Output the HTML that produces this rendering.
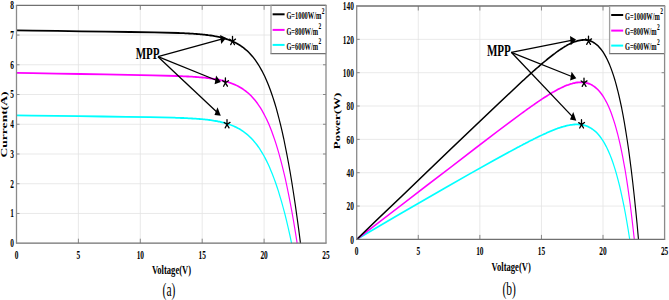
<!DOCTYPE html>
<html><head><meta charset="utf-8"><style>
html,body{margin:0;padding:0;background:#fff;}
svg{display:block;}
text{font-family:"Liberation Serif", serif;}
</style></head><body>
<svg width="669" height="300" viewBox="0 0 669 300">
<rect width="669" height="300" fill="#fff"/>
<path d="M78.40 5.30V243.20 M140.30 5.30V243.20 M202.20 5.30V243.20 M264.10 5.30V243.20 M16.50 213.46H326.00 M16.50 183.72H326.00 M16.50 153.99H326.00 M16.50 124.25H326.00 M16.50 94.51H326.00 M16.50 64.78H326.00 M16.50 35.04H326.00" stroke="#e3e3e3" stroke-width="0.8" fill="none"/>
<polyline transform="scale(0.64,1)" points="25.8,115.4 49.8,115.6 86.7,115.9 123.6,116.2 160.5,116.5 197.3,116.8 234.2,117.2 271.1,117.7 273.1,117.7 275.0,117.8 276.9,117.8 278.9,117.9 280.8,117.9 282.7,118.0 284.7,118.0 286.6,118.0 288.5,118.1 290.5,118.2 292.4,118.2 294.4,118.3 296.3,118.3 298.2,118.4 300.2,118.5 302.1,118.6 304.1,118.6 306.0,118.7 307.9,118.8 309.9,118.9 311.8,119.0 313.8,119.1 315.7,119.2 317.6,119.3 319.6,119.4 321.5,119.6 323.5,119.7 325.4,119.9 327.4,120.0 329.3,120.2 331.3,120.4 333.2,120.6 335.2,120.8 337.1,121.0 339.1,121.2 341.0,121.5 343.0,121.7 345.0,122.0 346.9,122.3 348.9,122.6 350.8,122.9 352.8,123.3 354.8,123.7 356.8,124.1 358.7,124.5 360.7,125.0 362.7,125.5 364.7,126.0 366.7,126.6 368.7,127.2 370.7,127.8 372.7,128.5 374.7,129.2 376.7,130.0 378.7,130.8 380.7,131.7 382.7,132.7 384.8,133.7 386.8,134.8 388.9,136.0 390.9,137.2 393.0,138.5 395.1,139.9 397.1,141.5 399.2,143.1 401.3,144.8 403.5,146.7 405.6,148.7 407.7,150.8 409.9,153.1 412.1,155.5 414.3,158.1 416.5,160.9 418.7,163.8 421.0,167.0 423.2,170.4 425.5,174.0 427.8,177.9 430.2,182.0 432.6,186.5 435.0,191.2 437.4,196.3 439.9,201.7 442.4,207.5 445.0,213.7 447.6,220.4 450.2,227.5 452.9,235.1 455.6,243.2" stroke="#00ffff" stroke-width="1.8" fill="none" stroke-linejoin="round"/>
<polyline transform="scale(0.64,1)" points="25.8,72.8 50.7,73.1 88.3,73.6 125.9,74.0 163.6,74.4 201.2,74.9 238.8,75.4 276.5,76.0 278.4,76.1 280.4,76.1 282.4,76.2 284.4,76.2 286.3,76.3 288.3,76.3 290.3,76.4 292.3,76.5 294.2,76.5 296.2,76.6 298.2,76.7 300.2,76.7 302.1,76.8 304.1,76.9 306.1,77.0 308.1,77.1 310.0,77.2 312.0,77.3 314.0,77.4 316.0,77.5 318.0,77.6 319.9,77.7 321.9,77.8 323.9,78.0 325.9,78.1 327.9,78.3 329.9,78.5 331.8,78.6 333.8,78.8 335.8,79.0 337.8,79.2 339.8,79.5 341.8,79.7 343.8,80.0 345.8,80.3 347.8,80.5 349.7,80.9 351.7,81.2 353.7,81.6 355.7,81.9 357.7,82.3 359.7,82.8 361.8,83.3 363.8,83.8 365.8,84.3 367.8,84.9 369.8,85.5 371.8,86.1 373.8,86.8 375.9,87.6 377.9,88.4 379.9,89.2 382.0,90.2 384.0,91.1 386.1,92.2 388.1,93.3 390.2,94.5 392.3,95.8 394.3,97.2 396.4,98.7 398.5,100.3 400.6,102.0 402.7,103.8 404.8,105.8 407.0,107.9 409.1,110.2 411.2,112.6 413.4,115.2 415.6,118.0 417.8,120.9 420.0,124.1 422.2,127.6 424.5,131.2 426.7,135.2 429.0,139.4 431.3,143.9 433.7,148.8 436.0,154.0 438.4,159.6 440.8,165.5 443.3,172.0 445.8,178.8 448.3,186.2 450.8,194.1 453.4,202.6 456.1,211.7 458.8,221.5 461.5,232.0 464.3,243.2" stroke="#ff00ff" stroke-width="1.8" fill="none" stroke-linejoin="round"/>
<polyline transform="scale(0.64,1)" points="25.8,30.4 51.0,30.6 89.1,30.9 127.1,31.3 165.2,31.6 203.2,32.0 241.3,32.4 279.4,33.0 281.4,33.1 283.4,33.1 285.4,33.2 287.4,33.2 289.4,33.3 291.4,33.4 293.4,33.4 295.4,33.5 297.4,33.6 299.4,33.6 301.4,33.7 303.4,33.8 305.4,33.9 307.4,34.0 309.4,34.1 311.4,34.2 313.4,34.3 315.4,34.4 317.4,34.6 319.4,34.7 321.4,34.9 323.4,35.0 325.4,35.2 327.4,35.3 329.4,35.5 331.4,35.7 333.4,35.9 335.4,36.2 337.4,36.4 339.4,36.6 341.4,36.9 343.4,37.2 345.5,37.5 347.5,37.8 349.5,38.2 351.5,38.6 353.5,39.0 355.5,39.4 357.6,39.8 359.6,40.3 361.6,40.9 363.6,41.4 365.7,42.0 367.7,42.7 369.7,43.3 371.8,44.1 373.8,44.9 375.9,45.7 377.9,46.6 380.0,47.5 382.0,48.6 384.1,49.7 386.1,50.8 388.2,52.1 390.3,53.4 392.4,54.9 394.5,56.4 396.6,58.1 398.7,59.9 400.8,61.8 402.9,63.8 405.0,66.0 407.1,68.3 409.3,70.8 411.4,73.5 413.6,76.3 415.8,79.4 418.0,82.7 420.2,86.2 422.4,90.0 424.6,94.0 426.9,98.3 429.2,103.0 431.5,107.9 433.8,113.3 436.1,119.0 438.5,125.1 440.9,131.6 443.3,138.6 445.7,146.2 448.2,154.2 450.7,162.8 453.3,172.1 455.9,182.0 458.5,192.6 461.2,204.0 463.9,216.2 466.7,229.2 469.5,243.2" stroke="#000" stroke-width="1.8" fill="none" stroke-linejoin="round"/>
<path d="M78.40 243.20v-4.5M78.40 5.30v4.5 M140.30 243.20v-4.5M140.30 5.30v4.5 M202.20 243.20v-4.5M202.20 5.30v4.5 M264.10 243.20v-4.5M264.10 5.30v4.5 M16.50 213.46h3M326.00 213.46h-3 M16.50 183.72h3M326.00 183.72h-3 M16.50 153.99h3M326.00 153.99h-3 M16.50 124.25h3M326.00 124.25h-3 M16.50 94.51h3M326.00 94.51h-3 M16.50 64.78h3M326.00 64.78h-3 M16.50 35.04h3M326.00 35.04h-3" stroke="#888" stroke-width="1" fill="none"/>
<path d="M15.90 5.30H326.60M15.90 243.20H326.60" stroke="#707070" stroke-width="1.3" fill="none"/>
<path d="M16.50 5.30V243.20M326.00 5.30V243.20" stroke="#8a8a8a" stroke-width="1.3" fill="none"/>
<text transform="translate(13.90,247.00) scale(0.64,1)" font-size="11.5" font-weight="bold" text-anchor="end" fill="#000" >0</text>
<text transform="translate(13.90,217.26) scale(0.64,1)" font-size="11.5" font-weight="bold" text-anchor="end" fill="#000" >1</text>
<text transform="translate(13.90,187.53) scale(0.64,1)" font-size="11.5" font-weight="bold" text-anchor="end" fill="#000" >2</text>
<text transform="translate(13.90,157.79) scale(0.64,1)" font-size="11.5" font-weight="bold" text-anchor="end" fill="#000" >3</text>
<text transform="translate(13.90,128.05) scale(0.64,1)" font-size="11.5" font-weight="bold" text-anchor="end" fill="#000" >4</text>
<text transform="translate(13.90,98.31) scale(0.64,1)" font-size="11.5" font-weight="bold" text-anchor="end" fill="#000" >5</text>
<text transform="translate(13.90,68.58) scale(0.64,1)" font-size="11.5" font-weight="bold" text-anchor="end" fill="#000" >6</text>
<text transform="translate(13.90,38.84) scale(0.64,1)" font-size="11.5" font-weight="bold" text-anchor="end" fill="#000" >7</text>
<text transform="translate(13.90,9.10) scale(0.64,1)" font-size="11.5" font-weight="bold" text-anchor="end" fill="#000" >8</text>
<text transform="translate(16.50,259.00) scale(0.64,1)" font-size="11.5" font-weight="bold" text-anchor="middle" fill="#000" >0</text>
<text transform="translate(78.40,259.00) scale(0.64,1)" font-size="11.5" font-weight="bold" text-anchor="middle" fill="#000" >5</text>
<text transform="translate(140.30,259.00) scale(0.64,1)" font-size="11.5" font-weight="bold" text-anchor="middle" fill="#000" >10</text>
<text transform="translate(202.20,259.00) scale(0.64,1)" font-size="11.5" font-weight="bold" text-anchor="middle" fill="#000" >15</text>
<text transform="translate(264.10,259.00) scale(0.64,1)" font-size="11.5" font-weight="bold" text-anchor="middle" fill="#000" >20</text>
<text transform="translate(326.00,259.00) scale(0.64,1)" font-size="11.5" font-weight="bold" text-anchor="middle" fill="#000" >25</text>
<text transform="translate(171.50,274.40) scale(0.64,1)" font-size="13.4" font-weight="bold" text-anchor="middle" fill="#000" >Voltage(V)</text>
<text transform="translate(7.3,124.5) scale(0.64,1) rotate(-90)" font-size="13.6" font-weight="bold" text-anchor="middle" fill="#000" >Current(A)</text>
<text transform="translate(169.00,295.50) scale(0.64,1)" font-size="18" font-weight="normal" text-anchor="middle" fill="#000" >(a)</text>
<path d="M232.50 41.20l0.00 -4.90M232.50 41.20l0.00 1.00M232.50 41.20l-2.80 -2.00M232.50 41.20l3.00 -2.10M232.50 41.20l-1.80 3.40M232.50 41.20l2.00 3.40" stroke="#000" stroke-width="1.3" fill="none" stroke-linecap="round"/>
<path d="M225.40 82.80l0.00 -4.90M225.40 82.80l0.00 1.00M225.40 82.80l-2.80 -2.00M225.40 82.80l3.00 -2.10M225.40 82.80l-1.80 3.40M225.40 82.80l2.00 3.40" stroke="#000" stroke-width="1.3" fill="none" stroke-linecap="round"/>
<path d="M227.00 124.50l0.00 -4.90M227.00 124.50l0.00 1.00M227.00 124.50l-2.80 -2.00M227.00 124.50l3.00 -2.10M227.00 124.50l-1.80 3.40M227.00 124.50l2.00 3.40" stroke="#000" stroke-width="1.3" fill="none" stroke-linecap="round"/>
<text transform="translate(147.60,58.70) scale(0.65,1)" font-size="17" font-weight="bold" text-anchor="middle" fill="#000" >MPP</text>
<path d="M158.00 56.70L221.60 39.17" stroke="#000" stroke-width="1.3" fill="none"/>
<path d="M226.20 37.90L221.17 43.96L220.14 34.90Z" fill="#000"/>
<path d="M158.00 56.70L216.28 80.27" stroke="#000" stroke-width="1.3" fill="none"/>
<path d="M220.80 82.10L214.61 84.35L216.09 75.44Z" fill="#000"/>
<path d="M158.00 56.70L216.80 111.94" stroke="#000" stroke-width="1.3" fill="none"/>
<path d="M220.80 115.70L214.46 115.11L217.49 107.22Z" fill="#000"/>
<rect x="271.00" y="5.30" width="55.00" height="48.30" fill="#fff" stroke="none"/>
<path d="M270.40 5.30H326.00M270.40 53.60H326.00" stroke="#707070" stroke-width="1.2" fill="none"/>
<path d="M271.00 5.30V53.60M326.00 5.30V53.60" stroke="#a0a0a0" stroke-width="1.3" fill="none"/>
<path d="M272.60 14.30H284.60" stroke="#000" stroke-width="2"/>
<text transform="translate(286.40,19.10) scale(0.64,1)" font-size="10" font-weight="bold" text-anchor="start" fill="#000" >G=1000W/m<tspan dy="-5.6" dx="0.6" font-size="8.5">2</tspan></text>
<path d="M272.60 29.90H284.60" stroke="#ff00ff" stroke-width="2"/>
<text transform="translate(286.40,34.70) scale(0.64,1)" font-size="10" font-weight="bold" text-anchor="start" fill="#000" >G=800W/m<tspan dy="-5.6" dx="0.6" font-size="8.5">2</tspan></text>
<path d="M272.60 44.90H284.60" stroke="#00ffff" stroke-width="2"/>
<text transform="translate(286.40,49.70) scale(0.64,1)" font-size="10" font-weight="bold" text-anchor="start" fill="#000" >G=600W/m<tspan dy="-5.6" dx="0.6" font-size="8.5">2</tspan></text>
<path d="M418.28 6.00V239.40 M479.86 6.00V239.40 M541.44 6.00V239.40 M603.02 6.00V239.40 M356.70 206.06H664.60 M356.70 172.71H664.60 M356.70 139.37H664.60 M356.70 106.03H664.60 M356.70 72.69H664.60 M356.70 39.34H664.60" stroke="#e3e3e3" stroke-width="0.8" fill="none"/>
<polyline transform="scale(0.64,1)" points="557.3,239.4 587.2,228.1 623.8,214.4 660.4,200.8 697.0,187.3 733.6,174.0 770.2,160.9 806.8,148.1 808.7,147.4 810.6,146.8 812.6,146.1 814.5,145.5 816.4,144.8 818.3,144.2 820.2,143.6 822.2,142.9 824.1,142.3 826.0,141.6 827.9,141.0 829.8,140.4 831.8,139.8 833.7,139.1 835.6,138.5 837.5,137.9 839.5,137.3 841.4,136.7 843.3,136.1 845.2,135.5 847.1,135.0 849.1,134.4 851.0,133.8 852.9,133.3 854.8,132.7 856.8,132.2 858.7,131.6 860.6,131.1 862.6,130.6 864.5,130.1 866.4,129.6 868.3,129.1 870.3,128.7 872.2,128.2 874.1,127.8 876.1,127.4 878.0,127.0 879.9,126.7 881.9,126.3 883.8,126.0 885.7,125.7 887.7,125.4 889.6,125.2 891.6,124.9 893.5,124.8 895.4,124.6 897.4,124.5 899.3,124.4 901.3,124.4 903.2,124.4 905.2,124.5 907.1,124.6 909.1,124.8 911.1,125.0 913.0,125.3 915.0,125.7 917.0,126.1 918.9,126.7 920.9,127.3 922.9,128.0 924.9,128.8 926.9,129.7 928.9,130.7 930.9,131.8 932.9,133.1 934.9,134.5 936.9,136.0 938.9,137.7 940.9,139.6 943.0,141.6 945.0,143.9 947.1,146.3 949.1,149.0 951.2,151.9 953.3,155.1 955.4,158.5 957.5,162.3 959.6,166.3 961.7,170.7 963.8,175.4 966.0,180.6 968.2,186.1 970.3,192.1 972.5,198.6 974.8,205.6 977.0,213.1 979.3,221.2 981.6,230.0 983.9,239.4" stroke="#00ffff" stroke-width="1.8" fill="none" stroke-linejoin="round"/>
<polyline transform="scale(0.64,1)" points="557.3,239.4 592.7,222.0 629.9,203.7 667.1,185.4 704.3,167.2 741.5,148.9 778.6,130.8 815.8,113.0 817.8,112.1 819.7,111.2 821.7,110.3 823.6,109.4 825.6,108.5 827.5,107.6 829.5,106.7 831.4,105.8 833.4,105.0 835.3,104.1 837.3,103.2 839.2,102.4 841.2,101.5 843.1,100.7 845.1,99.8 847.0,99.0 849.0,98.2 850.9,97.4 852.9,96.6 854.8,95.8 856.8,95.0 858.7,94.2 860.7,93.5 862.6,92.7 864.6,92.0 866.5,91.3 868.5,90.6 870.4,89.9 872.4,89.2 874.4,88.6 876.3,88.0 878.3,87.4 880.2,86.8 882.2,86.2 884.1,85.7 886.1,85.2 888.0,84.8 890.0,84.3 891.9,83.9 893.9,83.6 895.9,83.2 897.8,83.0 899.8,82.7 901.7,82.5 903.7,82.4 905.6,82.3 907.6,82.3 909.6,82.3 911.5,82.4 913.5,82.5 915.4,82.8 917.4,83.1 919.4,83.5 921.3,83.9 923.3,84.5 925.2,85.2 927.2,86.0 929.2,86.9 931.1,87.9 933.1,89.0 935.1,90.3 937.1,91.7 939.0,93.3 941.0,95.0 943.0,96.9 944.9,99.0 946.9,101.3 948.9,103.8 950.9,106.6 952.9,109.5 954.9,112.8 956.8,116.3 958.8,120.1 960.8,124.1 962.8,128.6 964.8,133.3 966.8,138.5 968.8,144.0 970.8,149.9 972.8,156.3 974.8,163.2 976.9,170.6 978.9,178.5 980.9,187.0 982.9,196.1 985.0,205.8 987.0,216.3 989.0,227.4 991.1,239.4" stroke="#ff00ff" stroke-width="1.8" fill="none" stroke-linejoin="round"/>
<polyline transform="scale(0.64,1)" points="557.3,239.4 590.3,219.1 628.1,196.0 665.8,172.8 703.6,149.6 741.3,126.5 779.1,103.5 816.8,80.8 818.8,79.7 820.8,78.5 822.8,77.3 824.7,76.2 826.7,75.0 828.7,73.9 830.7,72.8 832.7,71.6 834.6,70.5 836.6,69.4 838.6,68.3 840.6,67.2 842.6,66.1 844.5,65.0 846.5,63.9 848.5,62.8 850.5,61.7 852.5,60.7 854.5,59.6 856.4,58.6 858.4,57.6 860.4,56.6 862.4,55.6 864.4,54.6 866.4,53.7 868.3,52.7 870.3,51.8 872.3,50.9 874.3,50.0 876.3,49.1 878.3,48.3 880.3,47.5 882.3,46.7 884.2,46.0 886.2,45.2 888.2,44.5 890.2,43.9 892.2,43.3 894.2,42.7 896.2,42.2 898.2,41.7 900.2,41.3 902.2,40.9 904.2,40.6 906.2,40.3 908.2,40.1 910.2,40.0 912.2,39.9 914.2,39.9 916.2,40.0 918.2,40.2 920.2,40.5 922.2,40.9 924.2,41.4 926.2,42.0 928.3,42.8 930.3,43.7 932.3,44.7 934.3,45.8 936.3,47.2 938.4,48.7 940.4,50.4 942.4,52.2 944.5,54.3 946.5,56.6 948.6,59.2 950.6,62.0 952.7,65.1 954.7,68.4 956.8,72.1 958.9,76.1 961.0,80.5 963.0,85.2 965.1,90.3 967.2,95.9 969.3,101.9 971.5,108.4 973.6,115.5 975.7,123.1 977.8,131.3 980.0,140.1 982.2,149.6 984.3,159.8 986.5,170.8 988.7,182.6 990.9,195.3 993.1,209.0 995.4,223.7 997.6,239.4" stroke="#000" stroke-width="1.8" fill="none" stroke-linejoin="round"/>
<path d="M418.28 239.40v-4.5M418.28 6.00v4.5 M479.86 239.40v-4.5M479.86 6.00v4.5 M541.44 239.40v-4.5M541.44 6.00v4.5 M603.02 239.40v-4.5M603.02 6.00v4.5 M356.70 206.06h3M664.60 206.06h-3 M356.70 172.71h3M664.60 172.71h-3 M356.70 139.37h3M664.60 139.37h-3 M356.70 106.03h3M664.60 106.03h-3 M356.70 72.69h3M664.60 72.69h-3 M356.70 39.34h3M664.60 39.34h-3" stroke="#888" stroke-width="1" fill="none"/>
<path d="M356.10 6.00H665.20M356.10 239.40H665.20" stroke="#707070" stroke-width="1.3" fill="none"/>
<path d="M356.70 6.00V239.40M664.60 6.00V239.40" stroke="#8a8a8a" stroke-width="1.3" fill="none"/>
<text transform="translate(353.90,243.60) scale(0.64,1)" font-size="11.5" font-weight="bold" text-anchor="end" fill="#000" >0</text>
<text transform="translate(353.90,210.26) scale(0.64,1)" font-size="11.5" font-weight="bold" text-anchor="end" fill="#000" >20</text>
<text transform="translate(353.90,176.91) scale(0.64,1)" font-size="11.5" font-weight="bold" text-anchor="end" fill="#000" >40</text>
<text transform="translate(353.90,143.57) scale(0.64,1)" font-size="11.5" font-weight="bold" text-anchor="end" fill="#000" >60</text>
<text transform="translate(353.90,110.23) scale(0.64,1)" font-size="11.5" font-weight="bold" text-anchor="end" fill="#000" >80</text>
<text transform="translate(353.90,76.89) scale(0.64,1)" font-size="11.5" font-weight="bold" text-anchor="end" fill="#000" >100</text>
<text transform="translate(353.90,43.54) scale(0.64,1)" font-size="11.5" font-weight="bold" text-anchor="end" fill="#000" >120</text>
<text transform="translate(353.90,10.20) scale(0.64,1)" font-size="11.5" font-weight="bold" text-anchor="end" fill="#000" >140</text>
<text transform="translate(356.70,255.30) scale(0.64,1)" font-size="11.5" font-weight="bold" text-anchor="middle" fill="#000" >0</text>
<text transform="translate(418.28,255.30) scale(0.64,1)" font-size="11.5" font-weight="bold" text-anchor="middle" fill="#000" >5</text>
<text transform="translate(479.86,255.30) scale(0.64,1)" font-size="11.5" font-weight="bold" text-anchor="middle" fill="#000" >10</text>
<text transform="translate(541.44,255.30) scale(0.64,1)" font-size="11.5" font-weight="bold" text-anchor="middle" fill="#000" >15</text>
<text transform="translate(603.02,255.30) scale(0.64,1)" font-size="11.5" font-weight="bold" text-anchor="middle" fill="#000" >20</text>
<text transform="translate(664.60,255.30) scale(0.64,1)" font-size="11.5" font-weight="bold" text-anchor="middle" fill="#000" >25</text>
<text transform="translate(511.20,271.00) scale(0.64,1)" font-size="13.4" font-weight="bold" text-anchor="middle" fill="#000" >Voltage(V)</text>
<text transform="translate(340.0,121.0) scale(0.64,1) rotate(-90)" font-size="12.9" font-weight="bold" text-anchor="middle" fill="#000" >Power(W)</text>
<text transform="translate(509.20,294.60) scale(0.64,1)" font-size="18" font-weight="normal" text-anchor="middle" fill="#000" >(b)</text>
<path d="M588.50 41.00l0.00 -4.90M588.50 41.00l0.00 1.00M588.50 41.00l-2.80 -2.00M588.50 41.00l3.00 -2.10M588.50 41.00l-1.80 3.40M588.50 41.00l2.00 3.40" stroke="#000" stroke-width="1.3" fill="none" stroke-linecap="round"/>
<path d="M584.00 83.00l0.00 -4.90M584.00 83.00l0.00 1.00M584.00 83.00l-2.80 -2.00M584.00 83.00l3.00 -2.10M584.00 83.00l-1.80 3.40M584.00 83.00l2.00 3.40" stroke="#000" stroke-width="1.3" fill="none" stroke-linecap="round"/>
<path d="M581.50 124.60l0.00 -4.90M581.50 124.60l0.00 1.00M581.50 124.60l-2.80 -2.00M581.50 124.60l3.00 -2.10M581.50 124.60l-1.80 3.40M581.50 124.60l2.00 3.40" stroke="#000" stroke-width="1.3" fill="none" stroke-linecap="round"/>
<text transform="translate(498.90,56.40) scale(0.65,1)" font-size="17" font-weight="bold" text-anchor="middle" fill="#000" >MPP</text>
<path d="M511.30 52.30L571.37 40.42" stroke="#000" stroke-width="1.3" fill="none"/>
<path d="M576.00 39.50L570.78 45.17L570.04 36.04Z" fill="#000"/>
<path d="M511.30 52.30L571.77 76.49" stroke="#000" stroke-width="1.3" fill="none"/>
<path d="M576.30 78.30L570.11 80.57L571.57 71.66Z" fill="#000"/>
<path d="M511.30 52.30L572.42 116.62" stroke="#000" stroke-width="1.3" fill="none"/>
<path d="M576.30 120.70L569.98 119.60L573.27 111.97Z" fill="#000"/>
<rect x="609.60" y="6.00" width="55.00" height="47.60" fill="#fff" stroke="none"/>
<path d="M609.00 6.00H664.60M609.00 53.60H664.60" stroke="#707070" stroke-width="1.2" fill="none"/>
<path d="M609.60 6.00V53.60M664.60 6.00V53.60" stroke="#a0a0a0" stroke-width="1.3" fill="none"/>
<path d="M611.20 15.00H623.20" stroke="#000" stroke-width="2"/>
<text transform="translate(625.00,19.80) scale(0.64,1)" font-size="10" font-weight="bold" text-anchor="start" fill="#000" >G=1000W/m<tspan dy="-5.6" dx="0.6" font-size="8.5">2</tspan></text>
<path d="M611.20 30.60H623.20" stroke="#ff00ff" stroke-width="2"/>
<text transform="translate(625.00,35.40) scale(0.64,1)" font-size="10" font-weight="bold" text-anchor="start" fill="#000" >G=800W/m<tspan dy="-5.6" dx="0.6" font-size="8.5">2</tspan></text>
<path d="M611.20 45.60H623.20" stroke="#00ffff" stroke-width="2"/>
<text transform="translate(625.00,50.40) scale(0.64,1)" font-size="10" font-weight="bold" text-anchor="start" fill="#000" >G=600W/m<tspan dy="-5.6" dx="0.6" font-size="8.5">2</tspan></text>
</svg>
</body></html>
